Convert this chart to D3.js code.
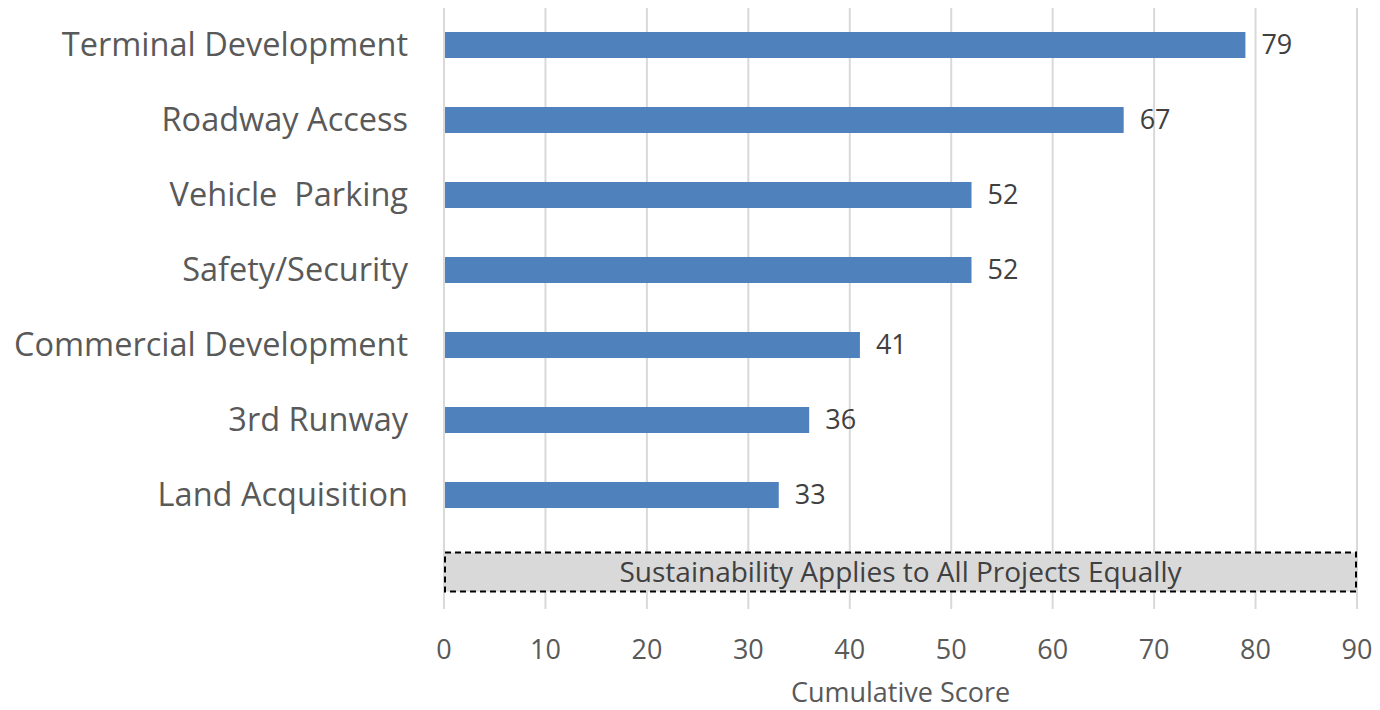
<!DOCTYPE html>
<html>
<head>
  <meta charset="utf-8">
  <title>Cumulative Score by Project</title>
  <style>
    html, body { margin: 0; padding: 0; background: #fff; }
    svg { display: block; font-family: "Open Sans", Lato, sans-serif; }
    .grid line { stroke: #d9d9d9; stroke-width: 2; }
    .bar { fill: #4f81bd; }
    .cat { fill: #595959; font-size: 32.5px; white-space: pre; }
    .val { fill: #404040; font-size: 27px; }
    .note { fill: #404040; font-size: 28px; }
    .tick-lbl { fill: #595959; font-size: 27px; }
    .title { fill: #595959; font-size: 27px; }
  </style>
</head>
<body>
  <svg id="chart" width="1380" height="710"></svg>
  <script src="https://d3js.org/d3.v7.min.js"></script>
  <script>
    const categories = ["Terminal Development", "Roadway Access", "Vehicle  Parking", "Safety/Security",
                        "Commercial Development", "3rd Runway", "Land Acquisition"];
    const scores = [79, 67, 52, 52, 41, 36, 33];
    const ticks = [0, 10, 20, 30, 40, 50, 60, 70, 80, 90];
    const noteRow = "Sustainability Applies to All Projects Equally";
    const axisTitle = "Cumulative Score";

    const data = categories.map((c, i) => ({ name: c, value: scores[i] }));
    const svg = d3.select("#chart");

    const x = d3.scaleLinear().domain([0, 90]).range([444, 1357]);
    const y = d3.scaleBand()
      .domain([...categories, "__note"])
      .range([7.5, 607.5])
      .paddingInner(0.653)
      .paddingOuter(0.3265);

    // gridlines
    svg.append("g").attr("class", "grid")
      .selectAll("line")
      .data(ticks)
      .enter().append("line")
      .attr("x1", d => x(d)).attr("x2", d => x(d))
      .attr("y1", 8).attr("y2", 609);

    // bars
    svg.selectAll("rect.bar")
      .data(data)
      .enter().append("rect")
      .attr("class", "bar")
      .attr("x", x(0) + 1)
      .attr("y", d => y(d.name))
      .attr("width", d => x(d.value) - x(0) - 1)
      .attr("height", y.bandwidth());

    // value labels
    svg.selectAll("text.val")
      .data(data)
      .enter().append("text")
      .attr("class", "val")
      .attr("x", d => x(d.value) + 16)
      .attr("y", d => y(d.name) + y.bandwidth() / 2)
      .attr("dy", "0.35em")
      .text(d => d.value);

    // category labels
    svg.selectAll("text.cat")
      .data(data)
      .enter().append("text")
      .attr("class", "cat")
      .attr("x", 408)
      .attr("y", d => y(d.name) + y.bandwidth() / 2)
      .attr("dy", "0.35em")
      .attr("text-anchor", "end")
      .text(d => d.name);

    // sustainability note row
    const noteCy = y("__note") + y.bandwidth() / 2 + 2;
    svg.append("rect")
      .attr("x", x(0) + 1)
      .attr("y", noteCy - 19.5)
      .attr("width", x(90) - x(0) - 2)
      .attr("height", 39)
      .attr("fill", "#d9d9d9")
      .attr("stroke", "#000")
      .attr("stroke-width", 2)
      .attr("stroke-dasharray", "6,4");
    svg.append("text")
      .attr("class", "note")
      .attr("x", (x(0) + x(90)) / 2)
      .attr("y", noteCy)
      .attr("dy", "0.35em")
      .attr("text-anchor", "middle")
      .text(noteRow);

    // x axis tick labels
    svg.selectAll("text.tick-lbl")
      .data(ticks)
      .enter().append("text")
      .attr("class", "tick-lbl")
      .attr("x", d => x(d))
      .attr("y", 650)
      .attr("dy", "0.35em")
      .attr("text-anchor", "middle")
      .text(d => d);

    svg.append("text")
      .attr("class", "title")
      .attr("x", (x(0) + x(90)) / 2)
      .attr("y", 702)
      .attr("text-anchor", "middle")
      .text(axisTitle);
  </script>
</body>
</html>
